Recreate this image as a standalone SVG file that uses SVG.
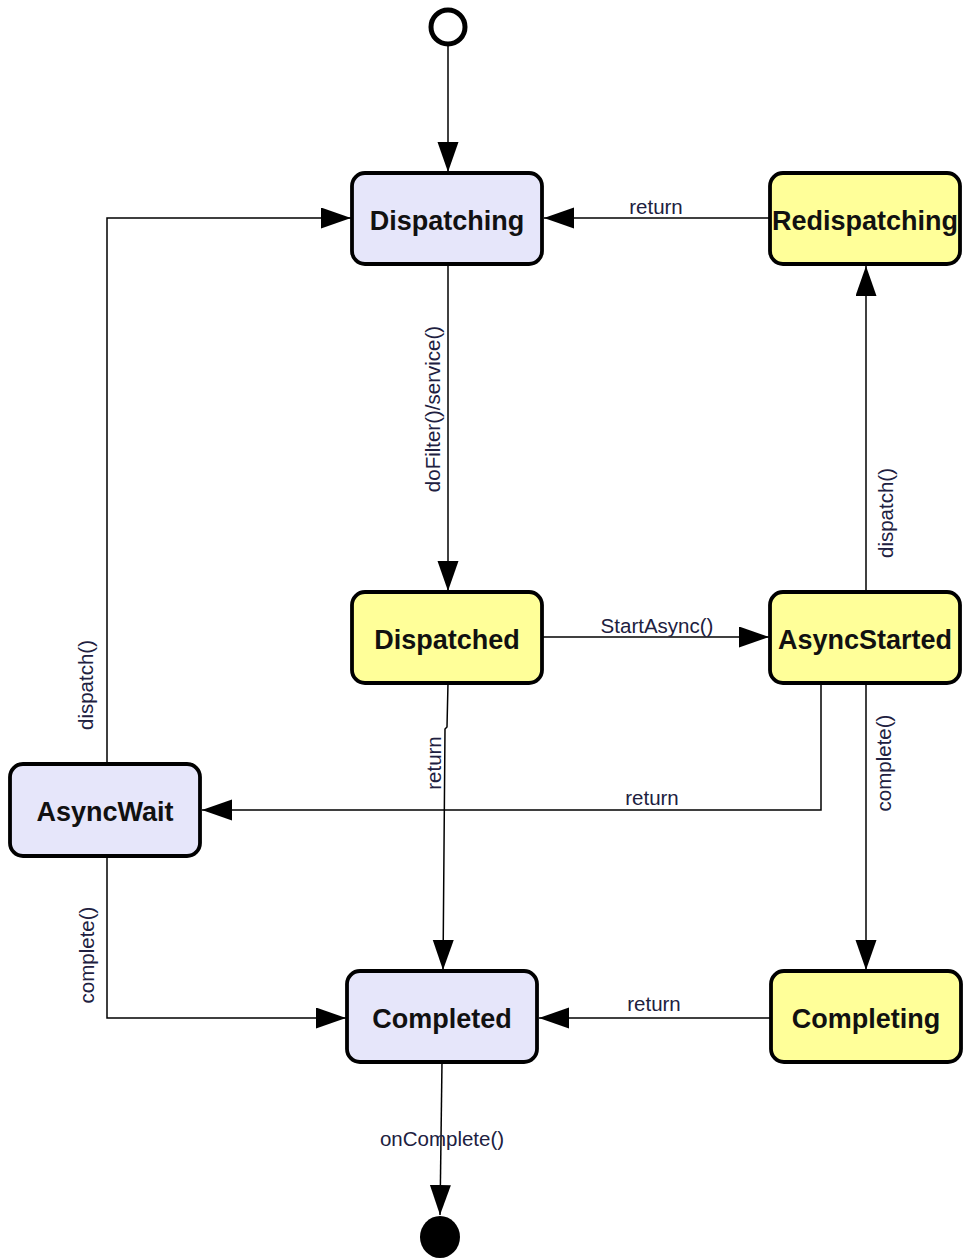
<svg xmlns="http://www.w3.org/2000/svg" width="964" height="1258" viewBox="0 0 964 1258">
<style>
.node rect{stroke:#000;stroke-width:3.8}
.blue rect{fill:#E6E6FA}
.yellow rect{fill:#FFFF99}
.node text{font-family:"Liberation Sans",Arial,sans-serif;font-weight:bold;font-size:27px;fill:#111;text-anchor:middle}
.edge{fill:none;stroke:#000;stroke-width:1.5}
.lbl{font-family:"Liberation Sans",Arial,sans-serif;font-size:20.5px;fill:#202040;text-anchor:middle}
</style>
<defs>
<marker id="arr" markerUnits="userSpaceOnUse" markerWidth="31" markerHeight="22" refX="30" refY="10.5" orient="auto">
<path d="M0,0 L30,10.5 L0,21 Z" fill="#000"/>
</marker>
</defs>
<g id="start"><circle cx="448" cy="27" r="17" fill="#fff" stroke="#000" stroke-width="5"/></g>
<g id="end"><ellipse cx="440" cy="1237" rx="20" ry="21" fill="#000"/></g>
<g id="connectors">
<path class="edge" d="M448,45 L448,172" marker-end="url(#arr)"/>
<path class="edge" d="M770,218 L544,218" marker-end="url(#arr)"/>
<text class="lbl" x="656" y="214">return</text>
<path class="edge" d="M448,264 L448,591" marker-end="url(#arr)"/>
<text class="lbl" transform="rotate(-90 440 409)" x="440" y="409">doFilter()/service()</text>
<path class="edge" d="M542,637 L769,637" marker-end="url(#arr)"/>
<text class="lbl" x="657" y="633">StartAsync()</text>
<path class="edge" d="M866,592 L866,266" marker-end="url(#arr)"/>
<text class="lbl" transform="rotate(-90 893 513)" x="893" y="513">dispatch()</text>
<path class="edge" d="M821,683 L821,810 L202,810" marker-end="url(#arr)"/>
<text class="lbl" x="652" y="805">return</text>
<path class="edge" d="M866,683 L866,970" marker-end="url(#arr)"/>
<text class="lbl" transform="rotate(-90 891 763)" x="891" y="763">complete()</text>
<path class="edge" d="M448,683 L447,727 L445,729 L443,970" marker-end="url(#arr)"/>
<text class="lbl" transform="rotate(-90 441 763)" x="441" y="763">return</text>
<path class="edge" d="M107,764 L107,218 L351,218" marker-end="url(#arr)"/>
<text class="lbl" transform="rotate(-90 93 685)" x="93" y="685">dispatch()</text>
<path class="edge" d="M107,856 L107,1018 L346,1018" marker-end="url(#arr)"/>
<text class="lbl" transform="rotate(-90 94 955)" x="94" y="955">complete()</text>
<path class="edge" d="M771,1018 L539,1018" marker-end="url(#arr)"/>
<text class="lbl" x="654" y="1011">return</text>
<path class="edge" d="M442,1062 L440,1215" marker-end="url(#arr)"/>
<text class="lbl" x="442" y="1146">onComplete()</text>
</g>
<g id="Dispatching" class="node blue"><rect x="352" y="173" width="190" height="91" rx="13"/><text x="447" y="230">Dispatching</text></g>
<g id="Redispatching" class="node yellow"><rect x="770" y="173" width="190" height="91" rx="13"/><text x="865" y="230">Redispatching</text></g>
<g id="Dispatched" class="node yellow"><rect x="352" y="592" width="190" height="91" rx="13"/><text x="447" y="649">Dispatched</text></g>
<g id="AsyncStarted" class="node yellow"><rect x="770" y="592" width="190" height="91" rx="13"/><text x="865" y="649">AsyncStarted</text></g>
<g id="AsyncWait" class="node blue"><rect x="10" y="764" width="190" height="92" rx="13"/><text x="105" y="821">AsyncWait</text></g>
<g id="Completed" class="node blue"><rect x="347" y="971" width="190" height="91" rx="13"/><text x="442" y="1028">Completed</text></g>
<g id="Completing" class="node yellow"><rect x="771" y="971" width="190" height="91" rx="13"/><text x="866" y="1028">Completing</text></g>
</svg>
